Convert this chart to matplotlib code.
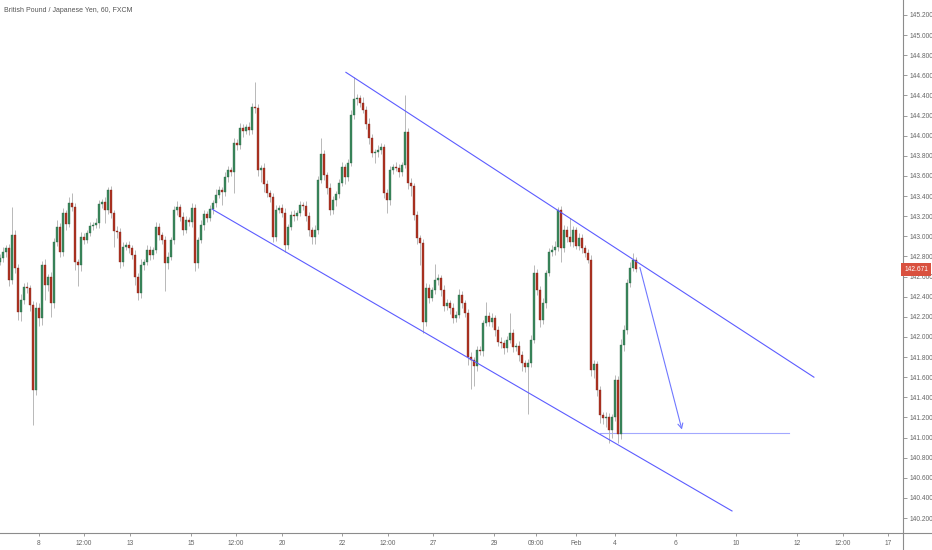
import numpy as np
import matplotlib
matplotlib.use("Agg")
import matplotlib.pyplot as plt
from matplotlib.lines import Line2D
import matplotlib.transforms as mtransforms

plt.rcParams["font.family"] = ["Liberation Sans", "DejaVu Sans"]

TITLE = "British Pound / Japanese Yen, 60, FXCM"

# candle closes (one candle per slot)
first_open = 142.74
closes = [
    142.78, 142.84, 142.88, 142.57, 143.01, 142.69, 142.25, 142.37, 142.50, 142.49,
    142.32, 141.47, 142.29, 142.19, 142.71, 142.52, 142.60, 142.34, 142.94, 143.09,
    142.84, 143.23, 143.12, 143.33, 143.29, 142.74, 142.71, 142.99, 142.96, 143.03,
    143.10, 143.11, 143.13, 143.32, 143.34, 143.26, 143.46, 143.23, 143.05, 143.04,
    142.74, 142.89, 142.91, 142.88, 142.81, 142.60, 142.44, 142.71, 142.74, 142.86,
    142.81, 142.86, 143.09, 143.01, 142.96, 142.73, 142.79, 142.96, 143.26, 143.29,
    143.19, 143.06, 143.16, 143.14, 143.28, 142.73, 142.96, 143.11, 143.22, 143.18,
    143.27, 143.33, 143.41, 143.46, 143.44, 143.59, 143.66, 143.64, 143.93, 143.91,
    144.08, 144.05, 144.09, 144.06, 144.29, 144.28, 143.66, 143.68, 143.52, 143.43,
    143.39, 142.99, 143.26, 143.28, 143.23, 142.91, 143.09, 143.21, 143.20, 143.23,
    143.31, 143.30, 143.20, 143.06, 142.99, 143.06, 143.56, 143.82, 143.61, 143.48,
    143.26, 143.36, 143.42, 143.53, 143.69, 143.59, 143.73, 144.21, 144.36, 144.37,
    144.33, 144.26, 144.12, 143.98, 143.83, 143.84, 143.86, 143.89, 143.43, 143.36,
    143.66, 143.69, 143.68, 143.64, 143.71, 144.04, 143.53, 143.50, 143.21, 142.98,
    142.93, 142.15, 142.49, 142.39, 142.47, 142.57, 142.59, 142.47, 142.31, 142.34,
    142.29, 142.19, 142.22, 142.42, 142.34, 142.24, 141.80, 141.77, 141.71, 141.87,
    141.86, 142.14, 142.21, 142.15, 142.19, 142.07, 141.95, 141.94, 141.89, 141.97,
    142.04, 141.90, 141.91, 141.82, 141.74, 141.70, 141.74, 141.97, 142.64, 142.47,
    142.17, 142.34, 142.64, 142.84, 142.86, 142.89, 143.26, 142.88, 143.06, 142.99,
    142.94, 143.06, 142.90, 142.98, 142.88, 142.83, 142.76, 141.67, 141.73, 141.47,
    141.22, 141.19, 141.20, 141.07, 141.20, 141.57, 141.04, 141.92, 142.07, 142.54,
    142.69, 142.76, 142.671,
]

# wick length above / below the body of each candle
wick_up = [
    0.04, 0.05, 0.03, 0.04, 0.28, 0.05, 0.03, 0.06, 0.04, 0.05,
    0.03, 0.04, 0.06, 0.05, 0.04, 0.06, 0.03, 0.05, 0.04, 0.07,
    0.04, 0.05, 0.03, 0.06, 0.10, 0.04, 0.03, 0.05, 0.04, 0.03,
    0.04, 0.03, 0.05, 0.04, 0.03, 0.05, 0.03, 0.04, 0.03, 0.05,
    0.04, 0.05, 0.03, 0.04, 0.03, 0.05, 0.04, 0.06, 0.03, 0.05,
    0.04, 0.03, 0.05, 0.04, 0.03, 0.04, 0.05, 0.03, 0.04, 0.06,
    0.03, 0.05, 0.04, 0.03, 0.05, 0.04, 0.03, 0.05, 0.04, 0.03,
    0.04, 0.03, 0.06, 0.04, 0.03, 0.05, 0.04, 0.03, 0.05, 0.04,
    0.05, 0.04, 0.03, 0.05, 0.04, 0.24, 0.04, 0.03, 0.05, 0.04,
    0.03, 0.04, 0.05, 0.03, 0.04, 0.05, 0.03, 0.04, 0.05, 0.03,
    0.04, 0.03, 0.05, 0.04, 0.03, 0.05, 0.04, 0.16, 0.04, 0.03,
    0.05, 0.04, 0.03, 0.04, 0.05, 0.03, 0.04, 0.05, 0.22, 0.04,
    0.03, 0.05, 0.04, 0.06, 0.04, 0.03, 0.05, 0.04, 0.03, 0.04,
    0.04, 0.03, 0.05, 0.04, 0.03, 0.36, 0.04, 0.05, 0.03, 0.04,
    0.03, 0.04, 0.05, 0.04, 0.03, 0.15, 0.04, 0.03, 0.05, 0.04,
    0.03, 0.05, 0.04, 0.06, 0.04, 0.03, 0.04, 0.05, 0.03, 0.04,
    0.04, 0.03, 0.14, 0.04, 0.05, 0.03, 0.04, 0.05, 0.03, 0.04,
    0.20, 0.04, 0.03, 0.05, 0.04, 0.03, 0.04, 0.05, 0.07, 0.04,
    0.04, 0.05, 0.03, 0.04, 0.05, 0.06, 0.03, 0.04, 0.05, 0.04,
    0.19, 0.04, 0.03, 0.05, 0.04, 0.03, 0.04, 0.05, 0.04, 0.03,
    0.04, 0.03, 0.05, 0.04, 0.03, 0.05, 0.04, 0.06, 0.05, 0.04,
    0.05, 0.07, 0.03,
]
wick_dn = [
    0.03, 0.04, 0.05, 0.06, 0.04, 0.05, 0.08, 0.09, 0.04, 0.05,
    0.06, 0.35, 0.05, 0.08, 0.07, 0.15, 0.06, 0.14, 0.05, 0.04,
    0.05, 0.04, 0.06, 0.03, 0.04, 0.07, 0.20, 0.05, 0.04, 0.03,
    0.03, 0.04, 0.03, 0.05, 0.04, 0.13, 0.04, 0.05, 0.16, 0.06,
    0.05, 0.04, 0.03, 0.05, 0.04, 0.08, 0.07, 0.05, 0.04, 0.03,
    0.05, 0.04, 0.03, 0.05, 0.04, 0.27, 0.05, 0.03, 0.04, 0.05,
    0.04, 0.05, 0.03, 0.04, 0.05, 0.07, 0.04, 0.03, 0.05, 0.04,
    0.03, 0.05, 0.04, 0.03, 0.13, 0.04, 0.05, 0.04, 0.21, 0.05,
    0.04, 0.06, 0.03, 0.05, 0.04, 0.05, 0.06, 0.12, 0.08, 0.04,
    0.05, 0.05, 0.04, 0.03, 0.04, 0.07, 0.04, 0.03, 0.05, 0.04,
    0.03, 0.04, 0.05, 0.06, 0.07, 0.07, 0.04, 0.03, 0.05, 0.06,
    0.05, 0.04, 0.06, 0.04, 0.03, 0.07, 0.04, 0.03, 0.04, 0.05,
    0.04, 0.03, 0.05, 0.06, 0.04, 0.10, 0.05, 0.04, 0.05, 0.13,
    0.05, 0.04, 0.03, 0.05, 0.04, 0.03, 0.06, 0.10, 0.05, 0.06,
    0.22, 0.11, 0.04, 0.05, 0.03, 0.04, 0.05, 0.06, 0.05, 0.04,
    0.06, 0.05, 0.04, 0.03, 0.05, 0.04, 0.08, 0.29, 0.20, 0.05,
    0.04, 0.05, 0.03, 0.04, 0.05, 0.06, 0.04, 0.05, 0.06, 0.04,
    0.03, 0.05, 0.04, 0.06, 0.08, 0.05, 0.47, 0.04, 0.03, 0.05,
    0.07, 0.04, 0.05, 0.03, 0.04, 0.05, 0.04, 0.14, 0.04, 0.05,
    0.04, 0.05, 0.03, 0.04, 0.05, 0.04, 0.03, 0.06, 0.08, 0.06,
    0.08, 0.06, 0.09, 0.12, 0.07, 0.04, 0.09, 0.05, 0.06, 0.04,
    0.04, 0.03, 0.03,
]

# drawings (candle index, price)
upper_channel_x = [115.3, 271.3]
upper_channel_y = [144.63, 141.60]
lower_channel_x = [70.7, 244.0]
lower_channel_y = [143.27, 140.27]
arrow_x = [213.3, 227.3]
arrow_y = [142.69, 141.08]
target_x = [200.0, 263.0]
target_y = 141.045

# time axis
tick_pos = [13, 28, 43.3, 63.7, 78.7, 94, 114, 129.3, 144.3, 164.7,
            178.7, 192, 205, 225.3, 245.3, 265.7, 281, 296]
tick_labels = ["8", "12:00", "13", "15", "12:00", "20", "22", "12:00", "27", "29",
               "09:00", "Feb", "4", "6", "10", "12", "12:00", "17"]
price_ticks = np.round(np.arange(140.2, 145.21, 0.2), 1)

GREEN = "#3c8a5e"
GREEN_EDGE = "#24603f"
RED = "#b13424"
RED_EDGE = "#7a1d12"
WICK = "#b8b8b8"
LINE_BLUE = "#5c5cff"
AXIS_GREY = "#8c8c8c"
TEXT_GREY = "#666666"

W, H = 932, 550
fig = plt.figure(figsize=(W / 100, H / 100), dpi=100)
ax = fig.add_axes([0, 17 / H, 903 / W, 533 / H])

closes = np.array(closes)
opens = np.concatenate([[first_open], closes[:-1]])
highs = np.maximum(opens, closes) + np.array(wick_up)
lows = np.minimum(opens, closes) - np.array(wick_dn)
idx = np.arange(len(closes))
up = closes >= opens

ax.vlines(idx, lows, highs, color=WICK, linewidth=0.7, zorder=2)
body_h = np.abs(closes - opens)
body_h = np.maximum(body_h, 0.008)
body_b = np.minimum(opens, closes)
ax.bar(idx[up], body_h[up], bottom=body_b[up], width=0.45, color=GREEN,
       edgecolor=GREEN_EDGE, linewidth=0.25, zorder=3)
ax.bar(idx[~up], body_h[~up], bottom=body_b[~up], width=0.45, color=RED,
       edgecolor=RED_EDGE, linewidth=0.25, zorder=3)

# channel, projection arrow and target level
ax.plot(upper_channel_x, upper_channel_y, color=LINE_BLUE, linewidth=0.8, zorder=4)
ax.plot(lower_channel_x, lower_channel_y, color=LINE_BLUE, linewidth=0.8, zorder=4)
ax.plot(target_x, [target_y, target_y], color="#a3a8ff", linewidth=0.8, zorder=1)
ax.annotate("", xy=(arrow_x[1], arrow_y[1]), xytext=(arrow_x[0], arrow_y[0]),
            arrowprops=dict(arrowstyle="->,head_length=0.35,head_width=0.18",
                            color="#7078ff", linewidth=0.8, shrinkA=0, shrinkB=0),
            zorder=4)

ax.set_xlim(0, 903 / 3)
ax.set_ylim(140.051, 145.349)

ax.set_xticks(tick_pos)
ax.set_xticklabels(tick_labels)
ax.set_yticks(price_ticks)
ax.set_yticklabels([f"{p:.3f}" for p in price_ticks])
ax.yaxis.tick_right()

for s in ["top", "left"]:
    ax.spines[s].set_visible(False)
for s in ["right", "bottom"]:
    ax.spines[s].set_color(AXIS_GREY)
    ax.spines[s].set_linewidth(0.8)

ax.tick_params(axis="y", direction="out", length=3, width=0.6, color=AXIS_GREY,
               labelcolor=TEXT_GREY, labelsize=4.8, pad=1.5)
ax.tick_params(axis="x", direction="out", length=2.5, width=0.6, color=AXIS_GREY,
               labelcolor=TEXT_GREY, labelsize=4.8, pad=2.5)

# axis lines run on past the corner
fig.add_artist(Line2D([903 / W, 1], [17 / H, 17 / H], color=AXIS_GREY, linewidth=0.8))
fig.add_artist(Line2D([903 / W, 903 / W], [0, 17 / H], color=AXIS_GREY, linewidth=0.8))

# last price tag
trans = mtransforms.blended_transform_factory(ax.transAxes, ax.transData)
ax.text(1.0015, closes[-1], f"{closes[-1]:.3f}", transform=trans, ha="left", va="center",
        fontsize=4.8, color="white", zorder=10, clip_on=False,
        bbox=dict(boxstyle="square,pad=0.45", facecolor="#d9513f", edgecolor="none"))

fig.text(4 / W, 1 - 10 / H, TITLE, fontsize=5.0, color="#555555", ha="left", va="center")

fig.savefig("out.png", dpi=100)
